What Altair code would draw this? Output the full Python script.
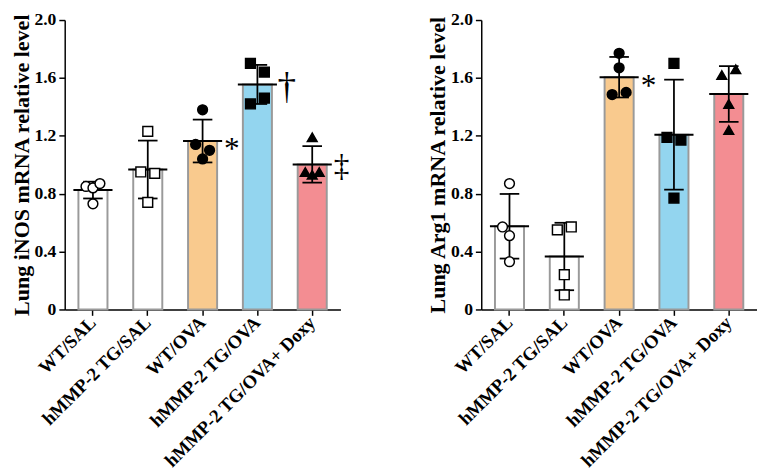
import altair as alt
import pandas as pd

groups = ["WT/SAL", "hMMP-2 TG/SAL", "WT/OVA", "hMMP-2 TG/OVA", "hMMP-2 TG/OVA+ Doxy"]
bar_colors = ["#ffffff", "#ffffff", "#f9ca8e", "#93d5ef", "#f38d92"]
point_shapes = ["circle", "square", "circle", "square", "triangle-up"]
point_fills = ["white", "white", "black", "black", "black"]
y_ticks = [0, 0.4, 0.8, 1.2, 1.6, 2.0]

# iNOS panel
inos_mean = [0.825, 0.967, 1.164, 1.555, 1.002]
inos_sd = [0.058, 0.200, 0.148, 0.135, 0.126]
inos_points = [
    [0.85, 0.84, 0.87, 0.73],
    [1.23, 0.95, 0.94, 0.74],
    [1.38, 1.14, 1.10, 1.04],
    [1.70, 1.64, 1.46, 1.42],
    [1.19, 0.95, 0.93, 0.95],
]
# horizontal slot of each dot inside its bar: -1 left, 0 centre, 1 right
inos_slot = [
    [-1, 0, 1, 0],
    [0, -1, 1, 0],
    [0, -1, 1, 0],
    [-1, 1, 1, -1],
    [0, -1, 0, 1],
]
inos_marks_group = ["WT/OVA", "hMMP-2 TG/OVA", "hMMP-2 TG/OVA+ Doxy"]
inos_marks_y = [1.16, 1.53, 0.99]
inos_marks_text = ["*", "†", "‡"]

# Arg1 panel
arg_mean = [0.575, 0.366, 1.605, 1.208, 1.489]
arg_sd = [0.223, 0.233, 0.140, 0.380, 0.193]
arg_points = [
    [0.87, 0.57, 0.51, 0.33],
    [0.55, 0.57, 0.24, 0.10],
    [1.77, 1.67, 1.485, 1.50],
    [1.70, 1.19, 1.17, 0.77],
    [1.62, 1.66, 1.42, 1.24],
]
arg_slot = [
    [0, -1, 0, 0],
    [-1, 1, 0, 0],
    [0, 0, -1, 1],
    [0, -1, 1, 0],
    [-1, 1, 0, 0],
]
arg_marks_group = ["WT/OVA"]
arg_marks_y = [1.60]
arg_marks_text = ["*"]

FONT = "Liberation Serif"
SLOT_BAND = {-1: 0.26, 0: 0.5, 1: 0.74}
SYMBOL_SIZE = {"*": 32, "†": 38, "‡": 32}
SYMBOL_DY = {"*": 8, "†": 0, "‡": 0}


def panel(title, means, sds, pts, slots, m_groups, m_y, m_text):
    bars = pd.DataFrame({
        "group": groups,
        "mean": means,
        "lo": [m - s for m, s in zip(means, sds)],
        "hi": [m + s for m, s in zip(means, sds)],
    })
    rows = []
    for g, vals, js in zip(groups, pts, slots):
        for v, j in zip(vals, js):
            rows.append({"group": g, "value": v, "slot": j})
    points = pd.DataFrame(rows)
    ann = pd.DataFrame({"group": m_groups, "y": m_y, "label": m_text})

    xscale = alt.Scale(domain=groups, paddingInner=0.47, paddingOuter=0.25)
    xaxis = alt.Axis(title=None, labelAngle=-45, labelAlign="right",
                     labelBaseline="middle", labelPadding=4, labelLimit=0, labelFontSize=19)
    yscale = alt.Scale(domain=[0, 2])
    yaxis = alt.Axis(title=title, values=y_ticks, labelPadding=3, titlePadding=1,
                     labelExpr="datum.value == 0 ? '0' : format(datum.value, '.1f')")

    def X(**kw):
        return alt.X("group:N", sort=groups, scale=xscale, axis=xaxis, **kw)

    def Y(field):
        return alt.Y(field, scale=yscale, axis=yaxis)

    bar = alt.Chart(bars).mark_bar(stroke="#9a9a9a", strokeWidth=2).encode(
        x=X(), y=Y("mean:Q"),
        color=alt.Color("group:N", scale=alt.Scale(domain=groups, range=bar_colors), legend=None),
    )
    err = alt.Chart(bars).mark_rule(color="black", strokeWidth=1.8).encode(
        x=X(), y=Y("lo:Q"), y2="hi:Q")
    cap_hi = alt.Chart(bars).mark_tick(color="black", size=20, thickness=1.8, opacity=1).encode(
        x=X(), y=Y("hi:Q"))
    cap_lo = alt.Chart(bars).mark_tick(color="black", size=20, thickness=1.8, opacity=1).encode(
        x=X(), y=Y("lo:Q"))
    mean_line = alt.Chart(bars).mark_tick(color="black", size=40, thickness=2, opacity=1).encode(
        x=X(), y=Y("mean:Q"))

    dot_layers = []
    for k in (-1, 0, 1):
        dot_layers.append(
            alt.Chart(points).transform_filter(f"datum.slot == {k}").mark_point(
                size=100, stroke="black", strokeWidth=1.5, opacity=1
            ).encode(
                x=X(bandPosition=SLOT_BAND[k]),
                y=Y("value:Q"),
                shape=alt.Shape("group:N", scale=alt.Scale(domain=groups, range=point_shapes), legend=None),
                fill=alt.Fill("group:N", scale=alt.Scale(domain=groups, range=point_fills), legend=None),
            )
        )
    sym_layers = []
    for s in m_text:
        sym_layers.append(
            alt.Chart(ann).transform_filter(f"datum.label == '{s}'").mark_text(
                dx=30, dy=SYMBOL_DY[s], fontSize=SYMBOL_SIZE[s], font=FONT, color="black",
                baseline="middle", align="center"
            ).encode(x=X(), y=Y("y:Q"), text="label:N")
        )
    return alt.layer(bar, err, cap_hi, cap_lo, mean_line, *dot_layers, *sym_layers).properties(
        width=282, height=296)


left = panel("Lung iNOS mRNA relative level", inos_mean, inos_sd, inos_points, inos_slot,
             inos_marks_group, inos_marks_y, inos_marks_text)
right = panel("Lung Arg1 mRNA relative level", arg_mean, arg_sd, arg_points, arg_slot,
              arg_marks_group, arg_marks_y, arg_marks_text)

chart = alt.hconcat(left, right, spacing=78).configure_view(stroke=None).configure_axis(
    domainColor="black", domainWidth=1.5, tickColor="black", tickWidth=1.5, tickSize=6,
    labelFont=FONT, labelFontWeight="bold", labelFontSize=18, labelColor="black",
    titleFont=FONT, titleFontWeight="bold", titleFontSize=22.5, titleColor="black",
    grid=False,
).properties(padding={"top": -2, "left": 2, "right": 0, "bottom": 0})

chart.save("out.html", embed_options={"renderer": "svg", "actions": False})
